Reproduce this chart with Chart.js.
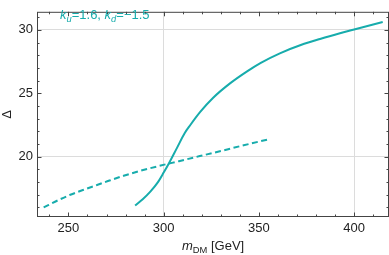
<!DOCTYPE html>
<html>
<head>
<meta charset="utf-8">
<script src="https://cdn.jsdelivr.net/npm/chart.js@4/dist/chart.umd.min.js"></script>
<style>
  html, body { margin: 0; padding: 0; background: #fff; }
  #wrap { position: relative; width: 389px; height: 255px; }
  .lbl { position: absolute; font-family: "Liberation Sans", Arial, sans-serif; white-space: nowrap; }
  .lbl sub { font-size: 0.72em; vertical-align: -0.3em; line-height: 0; }
  #note { left: 60px; top: 7px; font-size: 13px; color: #17acac; }
  #xtitle { left: 182px; top: 238px; font-size: 13px; color: #222; }
</style>
</head>
<body>
<div id="wrap">
  <canvas id="chart"></canvas>
  <div id="note" class="lbl"><i>k</i><sub><i>u</i></sub>=1.6, <i>k</i><sub><i>d</i></sub>=−1.5</div>
  <div id="xtitle" class="lbl"><i>m</i><sub>DM</sub> [GeV]</div>
</div>
<script>
// solid curve
const solidMass = [285, 289, 293, 297, 300, 303, 307, 311, 314, 319.3, 326, 335, 344, 351, 361, 372, 382.5, 393, 400, 415]
const solidDelta = [16.15, 16.65, 17.25, 18.0, 18.75, 19.55, 20.7, 21.85, 22.5, 23.55, 24.65, 25.8, 26.75, 27.4, 28.15, 28.8, 29.3, 29.75, 30.03, 30.62]

// dashed curve
const dashMass = [237, 245, 251, 258, 265, 272, 279, 288, 297, 308, 319, 330, 342, 355]
const dashDelta = [16.0, 16.6, 17.0, 17.4, 17.77, 18.15, 18.5, 18.9, 19.25, 19.65, 20.05, 20.45, 20.9, 21.37]

const xMajorTicks = [250, 300, 350, 400]
const yMajorTicks = [20, 25, 30]
const xGridTicks = [300, 400]
const yGridTicks = [20, 30]

const teal = '#17acac'
const frameColor = '#444'

function toPoints(xs, ys) {
  return xs.map((x, i) => ({ x: x, y: ys[i] }))
}

function range(a, b, step) {
  const out = []
  for (let v = a; v <= b + 1e-9; v += step) out.push({ value: Math.round(v * 100) / 100 })
  return out
}

const frameTicks = {
  id: 'frameTicks',
  afterDraw(chart) {
    const { ctx, chartArea: a, scales } = chart
    const xs = scales.x
    const ys = scales.y
    ctx.save()
    ctx.strokeStyle = frameColor
    ctx.lineWidth = 1
    ctx.strokeRect(a.left + 0.5, a.top + 0.5, a.right - a.left - 1, a.bottom - a.top - 1)
    ctx.beginPath()
    xs.ticks.forEach(t => {
      const px = Math.round(xs.getPixelForValue(t.value)) + 0.5
      const len = xMajorTicks.includes(t.value) ? 4.5 : 2.5
      ctx.moveTo(px, a.bottom)
      ctx.lineTo(px, a.bottom - len)
      ctx.moveTo(px, a.top)
      ctx.lineTo(px, a.top + len)
    })
    ys.ticks.forEach(t => {
      const py = Math.round(ys.getPixelForValue(t.value)) + 0.5
      const len = yMajorTicks.includes(t.value) ? 4.5 : 2.5
      ctx.moveTo(a.left, py)
      ctx.lineTo(a.left + len, py)
      ctx.moveTo(a.right, py)
      ctx.lineTo(a.right - len, py)
    })
    ctx.stroke()
    ctx.restore()
  }
}

new Chart(document.getElementById('chart'), {
  type: 'line',
  data: {
    datasets: [
      {
        data: toPoints(solidMass, solidDelta),
        borderColor: teal,
        borderWidth: 2,
        pointRadius: 0,
        cubicInterpolationMode: 'monotone',
        fill: false,
      },
      {
        data: toPoints(dashMass, dashDelta),
        borderColor: teal,
        borderWidth: 2,
        borderDash: [6, 3.5],
        pointRadius: 0,
        cubicInterpolationMode: 'monotone',
        fill: false,
      },
    ],
  },
  options: {
    responsive: true,
    maintainAspectRatio: false,
    animation: false,
    layout: { padding: 0 },
    plugins: {
      legend: { display: false },
      tooltip: { enabled: false },
    },
    scales: {
      x: {
        type: 'linear',
        min: 233.5,
        max: 418.3,
        afterBuildTicks: s => { s.ticks = range(240, 410, 10) },
        afterFit: s => { s.height = 38 },
        grid: {
          drawTicks: false,
          color: c => (c.tick && xGridTicks.includes(c.tick.value) ? '#dcdcdc' : 'rgba(0,0,0,0)'),
        },
        border: { display: false },
        ticks: {
          autoSkip: false,
          maxRotation: 0,
          padding: 4,
          color: '#222',
          font: { family: 'Liberation Sans', size: 13 },
          callback: v => (xMajorTicks.includes(v) ? String(v) : ''),
        },
      },
      y: {
        type: 'linear',
        min: 15.25,
        max: 31.42,
        afterBuildTicks: s => { s.ticks = range(16, 31, 1) },
        afterFit: s => { s.width = 37 },
        grid: {
          drawTicks: false,
          color: c => (c.tick && yGridTicks.includes(c.tick.value) ? '#dcdcdc' : 'rgba(0,0,0,0)'),
        },
        border: { display: false },
        title: {
          display: true,
          text: 'Δ',
          color: '#222',
          padding: 0,
          font: { family: 'Liberation Sans', size: 13 },
        },
        ticks: {
          autoSkip: false,
          padding: 4,
          color: '#222',
          font: { family: 'Liberation Sans', size: 13 },
          callback: v => (yMajorTicks.includes(v) ? String(v) : ''),
        },
      },
    },
  },
  plugins: [frameTicks],
})
</script>
</body>
</html>
